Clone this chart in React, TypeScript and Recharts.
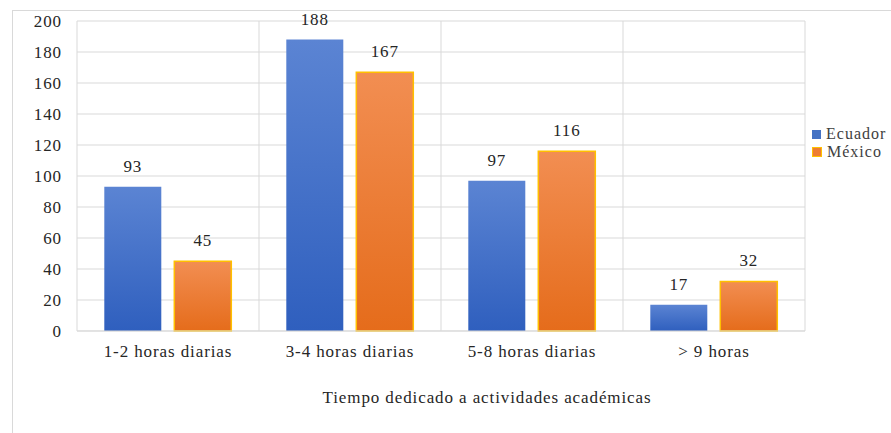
import { BarChart, Bar, XAxis, YAxis, CartesianGrid, LabelList, Label } from 'recharts';

// categorías y valores
const categorias = ['1-2 horas diarias', '3-4 horas diarias', '5-8 horas diarias', '> 9 horas'];
const ecuador = [93, 188, 97, 17];
const mexico = [45, 167, 116, 32];
const ticksY = [0, 20, 40, 60, 80, 100, 120, 140, 160, 180, 200];

const data = categorias.map((c, i) => ({ cat: c, Ecuador: ecuador[i], México: mexico[i] }));

const fuente = 'Liberation Serif';

const Leyenda = () => (
  <div style={{ position: 'absolute', left: 812, top: 125, fontFamily: fuente, fontSize: 16, letterSpacing: 1, color: '#404040', lineHeight: '18px' }}>
    <div style={{ display: 'flex', alignItems: 'center' }}>
      <span style={{ width: 9, height: 9, background: '#4472c4', marginRight: 5, display: 'inline-block' }} />
      <span>Ecuador</span>
    </div>
    <div style={{ display: 'flex', alignItems: 'center' }}>
      <span style={{ width: 8, height: 8, background: '#ed7d31', border: '1px solid #ffc000', marginRight: 5, display: 'inline-block' }} />
      <span>México</span>
    </div>
  </div>
);

const txtStyle = { fill: '#262626', fontSize: 17, fontFamily: fuente, letterSpacing: 0.9 };
const txt = { ...txtStyle, style: { letterSpacing: 0.9 } };

export default function App() {
  return (
    <div style={{ position: 'absolute', left: 0, top: 0, width: 891, height: 433, background: '#fff', fontFamily: fuente }}>
      <div style={{ position: 'absolute', left: 12, top: 10, width: 890, height: 430, border: '1px solid #d9d9d9' }} />
      <div style={{ position: 'absolute', left: 0, top: 0 }}>
        <BarChart
          width={891}
          height={433}
          data={data}
          margin={{ top: 21, right: 86, bottom: 0, left: 17 }}
          barCategoryGap="15%"
          barGap={13}
          style={{ fontFamily: fuente }}
        >
          <defs>
            <linearGradient id="gradAzul" x1="0" y1="0" x2="0" y2="1">
              <stop offset="0%" stopColor="#5b84d3" />
              <stop offset="100%" stopColor="#2f5fbe" />
            </linearGradient>
            <linearGradient id="gradNaranja" x1="0" y1="0" x2="0" y2="1">
              <stop offset="0%" stopColor="#f28e52" />
              <stop offset="100%" stopColor="#e56c1b" />
            </linearGradient>
          </defs>
          <CartesianGrid
            stroke="#d9d9d9"
            verticalCoordinatesGenerator={({ offset }: any) =>
              [0, 1, 2, 3, 4].map((i) => offset.left + (i * offset.width) / 4)
            }
          />
          <XAxis
            dataKey="cat"
            height={102}
            tickLine={false}
            tickSize={0}
            tickMargin={14}
            axisLine={{ stroke: '#d9d9d9' }}
            tick={txt}
          >
            <Label
              value="Tiempo dedicado  a actividades académicas"
              position="insideBottom"
              offset={30}
              dx={46}
              style={{ ...txtStyle, whiteSpace: 'pre' }}
            />
          </XAxis>
          <YAxis
            width={60}
            domain={[0, 200]}
            ticks={ticksY}
            tickLine={false}
            tickSize={0}
            tickMargin={15}
            axisLine={false}
            tick={txt}
          />
          <Bar dataKey="Ecuador" fill="url(#gradAzul)" isAnimationActive={false}>
            <LabelList dataKey="Ecuador" position="top" offset={15} style={txtStyle} />
          </Bar>
          <Bar dataKey="México" fill="url(#gradNaranja)" stroke="#ffc000" strokeWidth={1.5} isAnimationActive={false}>
            <LabelList dataKey="México" position="top" offset={15} style={txtStyle} />
          </Bar>
        </BarChart>
      </div>
      <Leyenda />
    </div>
  );
}
